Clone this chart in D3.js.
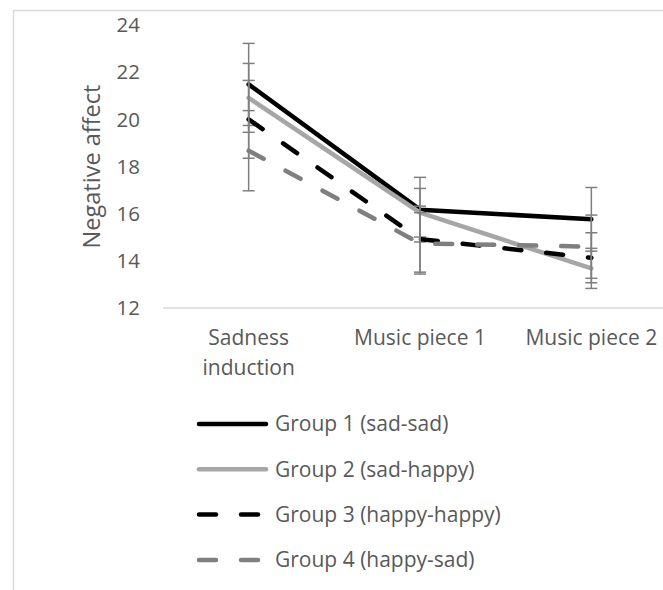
<!DOCTYPE html>
<html>
<head>
<meta charset="utf-8">
<script src="https://cdn.jsdelivr.net/npm/d3@7"></script>
<style>
  body { margin: 0; background: #fff; }
  text { font-family: "Open Sans", sans-serif; fill: #595959; }
</style>
</head>
<body>
<div id="chart"></div>
<script>
var categories = ["Sadness induction", "Music piece 1", "Music piece 2"];
var groupNames = ["Group 1 (sad-sad)", "Group 2 (sad-happy)", "Group 3 (happy-happy)", "Group 4 (happy-sad)"];
var group1 = [21.48, 16.17, 15.76];
var group2 = [20.91, 16.04, 13.68];
var group3 = [20.0, 14.92, 14.13];
var group4 = [18.67, 14.74, 14.6];
var err1 = [1.74, 1.37, 1.35];
var err2 = [1.46, 1.03, 0.85];
var err3 = [1.65, 1.4, 1.06];
var err4 = [1.7, 1.3, 1.34];
var yTicks = [12, 14, 16, 18, 20, 22, 24];

(function(){
  var width = 663, height = 590;
  var svg = d3.select("#chart").append("svg")
    .attr("width", width).attr("height", height);

  // outer chart frame
  svg.append("rect")
    .attr("x", 13.5).attr("y", 10.5)
    .attr("width", 720).attr("height", 640)
    .attr("fill", "none").attr("stroke", "#d9d9d9").attr("stroke-width", 1.5);

  var x = d3.scaleBand().domain(categories).range([163, 677]);
  var y = d3.scaleLinear().domain([12, 24]).range([308, 25]);
  var cx = function(c){ return x(c) + x.bandwidth() / 2; };

  var series = [
    {name: groupNames[0], values: group1, err: err1, color: "#000000", dash: null},
    {name: groupNames[1], values: group2, err: err2, color: "#a6a6a6", dash: null},
    {name: groupNames[2], values: group3, err: err3, color: "#000000", dash: "17,25"},
    {name: groupNames[3], values: group4, err: err4, color: "#7f7f7f", dash: "17,25"}
  ];

  // y tick labels
  svg.selectAll(".ytick").data(yTicks).enter().append("text")
    .attr("class", "ytick")
    .attr("x", 140).attr("y", function(d){ return y(d); })
    .attr("dy", "0.35em").attr("text-anchor", "end")
    .style("font-size", "20.5px")
    .text(function(d){ return d; });

  svg.append("text")
    .attr("transform", "translate(92," + y(18) + ") rotate(-90)")
    .attr("text-anchor", "middle").attr("dy", "0.35em")
    .style("font-size", "23.5px")
    .text("Negative affect");

  // x axis line
  svg.append("line")
    .attr("x1", 163).attr("x2", 677)
    .attr("y1", y(12)).attr("y2", y(12))
    .attr("stroke", "#d9d9d9").attr("stroke-width", 1.5);

  // category labels, word-wrapped like the original
  var catLines = {"Sadness induction": ["Sadness", "induction"]};
  categories.forEach(function(c){
    var lines = catLines[c] || [c];
    var t = svg.append("text")
      .attr("text-anchor", "middle")
      .style("font-size", "21px");
    lines.forEach(function(l, i){
      t.append("tspan").attr("x", cx(c)).attr("y", 338 + i * 30).attr("dy", "0.35em").text(l);
    });
  });

  var line = d3.line()
    .x(function(d, i){ return cx(categories[i]); })
    .y(function(d){ return y(d); });

  series.forEach(function(s){
    svg.append("path")
      .datum(s.values)
      .attr("d", line)
      .attr("fill", "none")
      .attr("stroke", s.color)
      .attr("stroke-width", 4.5)
      .attr("stroke-linejoin", "round")
      .attr("stroke-linecap", "round")
      .attr("stroke-dasharray", s.dash);

    var eb = svg.append("g").attr("stroke", "#7f7f7f").attr("stroke-width", 1.5);
    s.values.forEach(function(v, i){
      var px = cx(categories[i]);
      var hi = y(v + s.err[i]), lo = y(v - s.err[i]);
      eb.append("line").attr("x1", px).attr("x2", px).attr("y1", hi).attr("y2", lo);
      eb.append("line").attr("x1", px - 6).attr("x2", px + 6).attr("y1", hi).attr("y2", hi);
      eb.append("line").attr("x1", px - 6).attr("x2", px + 6).attr("y1", lo).attr("y2", lo);
    });
  });

  // legend
  var legend = svg.selectAll(".legend").data(series).enter().append("g")
    .attr("class", "legend")
    .attr("transform", function(d, i){ return "translate(0," + (424 + i * 45.3) + ")"; });
  legend.append("line")
    .attr("x1", 199).attr("x2", 266)
    .attr("stroke", function(d){ return d.color; })
    .attr("stroke-width", 4.5)
    .attr("stroke-linecap", "round")
    .attr("stroke-dasharray", function(d){ return d.dash; });
  legend.append("text")
    .attr("x", 275).attr("dy", "0.35em")
    .style("font-size", "21px")
    .text(function(d){ return d.name; });
})();
</script>
</body>
</html>
